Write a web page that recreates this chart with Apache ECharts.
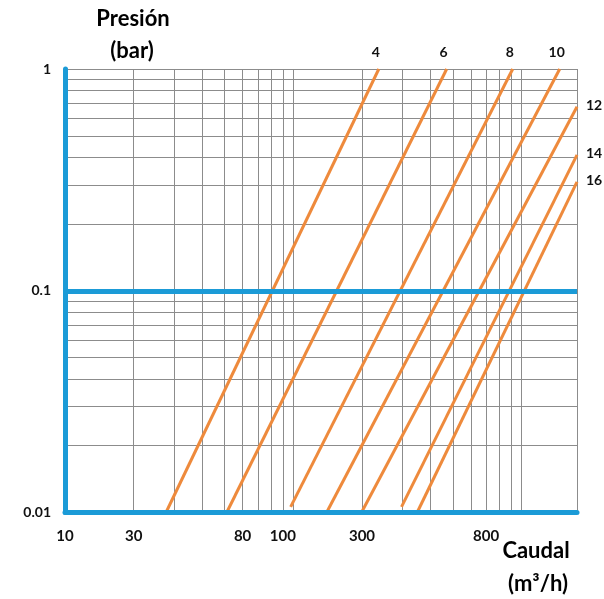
<!DOCTYPE html>
<html><head><meta charset="utf-8">
<script src="https://cdn.jsdelivr.net/npm/echarts@6/dist/echarts.min.js"></script>
<style>html,body{margin:0;padding:0;background:#fff}#c{width:604px;height:599px}</style>
</head><body><div id="c"></div>
<script>
// Axis ranges
const xMin = 10, xMax = 1750;
const yMin = 0.01, yMax = 1;
// Tick labels of the flow axis, and the gridlines they are printed beside
const xTickValues = [10, 20, 60, 90, 200, 700];
const xTickLabels = ['10', '30', '80', '100', '300', '800'];
const yTickValues = [0.01, 0.1, 1];
const yTickLabels = ['0.01', '0.1', '1'];
// Gridlines
const xGridValues = [20, 30, 40, 50, 60, 70, 80, 90, 100, 200, 300, 400, 500, 600, 700, 800, 900, 1000, 1750];
const yGridValues = [0.02, 0.03, 0.04, 0.05, 0.06, 0.07, 0.08, 0.09, 0.2, 0.3, 0.4, 0.5, 0.6, 0.7, 0.8, 0.9, 1];
const yHeavyValues = [0.1];
// Series (size label, [flow, pressure] end points)
const sizes = ['4', '6', '8', '10', '12', '14', '16'];
const s4  = [[27.7, 0.01], [237, 1]];
const s6  = [[51.1, 0.01], [470, 1]];
const s8  = [[97.4, 0.0106], [915, 1]];
const s10 = [[140, 0.01], [1470, 1]];
const s12 = [[199, 0.01], [1750, 0.676]];
const s14 = [[298, 0.0106], [1750, 0.41]];
const s16 = [[349, 0.01], [1750, 0.31]];
const seriesData = [s4, s6, s8, s10, s12, s14, s16];

const BLUE = '#1B9BD7', ORANGE = '#EE8A3C', GRID = '#8c8c8c';
const FONT = 'Lato';

const chart = echarts.init(document.getElementById('c'), null, {renderer: 'canvas'});

const lineSeries = seriesData.map((pts, i) => {
  const last = pts[pts.length - 1];
  const atTop = last[1] >= yMax;
  return {
    type: 'line',
    name: sizes[i],
    xAxisIndex: 0, yAxisIndex: 0,
    z: 3,
    showSymbol: true,
    symbol: 'circle',
    symbolSize: 0,
    silent: true,
    lineStyle: {color: ORANGE, width: 3},
    itemStyle: {color: ORANGE},
    label: {show: false},
    data: pts.map((p, j) => j === pts.length - 1 ? {
      value: p,
      label: {
        show: true,
        formatter: sizes[i],
        position: atTop ? 'top' : 'right',
        distance: atTop ? 10 : 9,
        offset: atTop ? [-3, 0] : [0, -1],
        color: '#111', fontFamily: FONT, fontWeight: 'bold', fontSize: 14
      }
    } : {value: p})
  };
});

const gridSeries = {
  type: 'line',
  xAxisIndex: 0, yAxisIndex: 0,
  data: [],
  silent: true,
  markLine: {
    silent: true, z: 1,
    symbol: ['none', 'none'],
    label: {show: false},
    lineStyle: {color: GRID, width: 1, type: 'solid'},
    emphasis: {disabled: true},
    animation: false,
    data: [
      ...xGridValues.map(v => ({xAxis: v})),
      ...yGridValues.map(v => ({yAxis: v}))
    ]
  }
};
const heavySeries = {
  type: 'line',
  xAxisIndex: 0, yAxisIndex: 0,
  data: [],
  silent: true,
  markLine: {
    silent: true, z: 6,
    symbol: ['none', 'none'],
    label: {show: false},
    lineStyle: {color: BLUE, width: 5, type: 'solid'},
    emphasis: {disabled: true},
    animation: false,
    data: yHeavyValues.map(v => ({yAxis: v}))
  }
};

const option = {
  animation: false,
  backgroundColor: '#fff',
  grid: {left: 65, right: 27, top: 69, bottom: 86.5, containLabel: false},
  xAxis: [{
    type: 'log', logBase: 10, min: xMin, max: xMax, z: 10,
    axisLine: {show: true, onZero: false, lineStyle: {color: BLUE, width: 5}},
    axisTick: {show: false}, axisLabel: {show: false},
    splitLine: {show: false}, minorTick: {show: false}
  }, {
    type: 'value', min: Math.log10(xMin), max: Math.log10(xMax), position: 'bottom', z: 10,
    axisLine: {show: false}, axisTick: {show: false}, splitLine: {show: false},
    axisLabel: {
      show: true, margin: 16,
      customValues: xTickValues.map(v => Math.log10(v)),
      formatter: v => {
        const i = xTickValues.findIndex(t => Math.abs(Math.log10(t) - v) < 1e-6);
        return i >= 0 ? xTickLabels[i] : '';
      },
      color: '#111', fontFamily: FONT, fontWeight: 'bold', fontSize: 15
    }
  }],
  yAxis: [{
    type: 'log', logBase: 10, min: yMin, max: yMax, z: 10,
    axisLine: {show: true, onZero: false, lineStyle: {color: BLUE, width: 5}},
    axisTick: {show: false}, splitLine: {show: false},
    axisLabel: {
      show: true, margin: 14,
      formatter: v => {
        const i = yTickValues.findIndex(t => Math.abs(t - v) < 1e-9);
        return i >= 0 ? yTickLabels[i] : '';
      },
      color: '#111', fontFamily: FONT, fontWeight: 'bold', fontSize: 14
    }
  }],
  graphic: [
    {type: 'text', x: 133, y: 19, style: {text: 'Presión', fill: '#000', fontFamily: FONT, fontWeight: 'bold', fontSize: 22, align: 'center', verticalAlign: 'middle'}},
    {type: 'text', x: 132, y: 51, style: {text: '(bar)', fill: '#000', fontFamily: FONT, fontWeight: 'bold', fontSize: 22, align: 'center', verticalAlign: 'middle'}},
    {type: 'text', x: 536, y: 551, style: {text: 'Caudal', fill: '#000', fontFamily: FONT, fontWeight: 'bold', fontSize: 22, align: 'center', verticalAlign: 'middle'}},
    {type: 'text', x: 538, y: 584, style: {text: '(m³/h)', fill: '#000', fontFamily: FONT, fontWeight: 'bold', fontSize: 22, align: 'center', verticalAlign: 'middle'}}
  ],
  series: [gridSeries, heavySeries, ...lineSeries]
};
chart.setOption(option);
</script>
</body></html>
